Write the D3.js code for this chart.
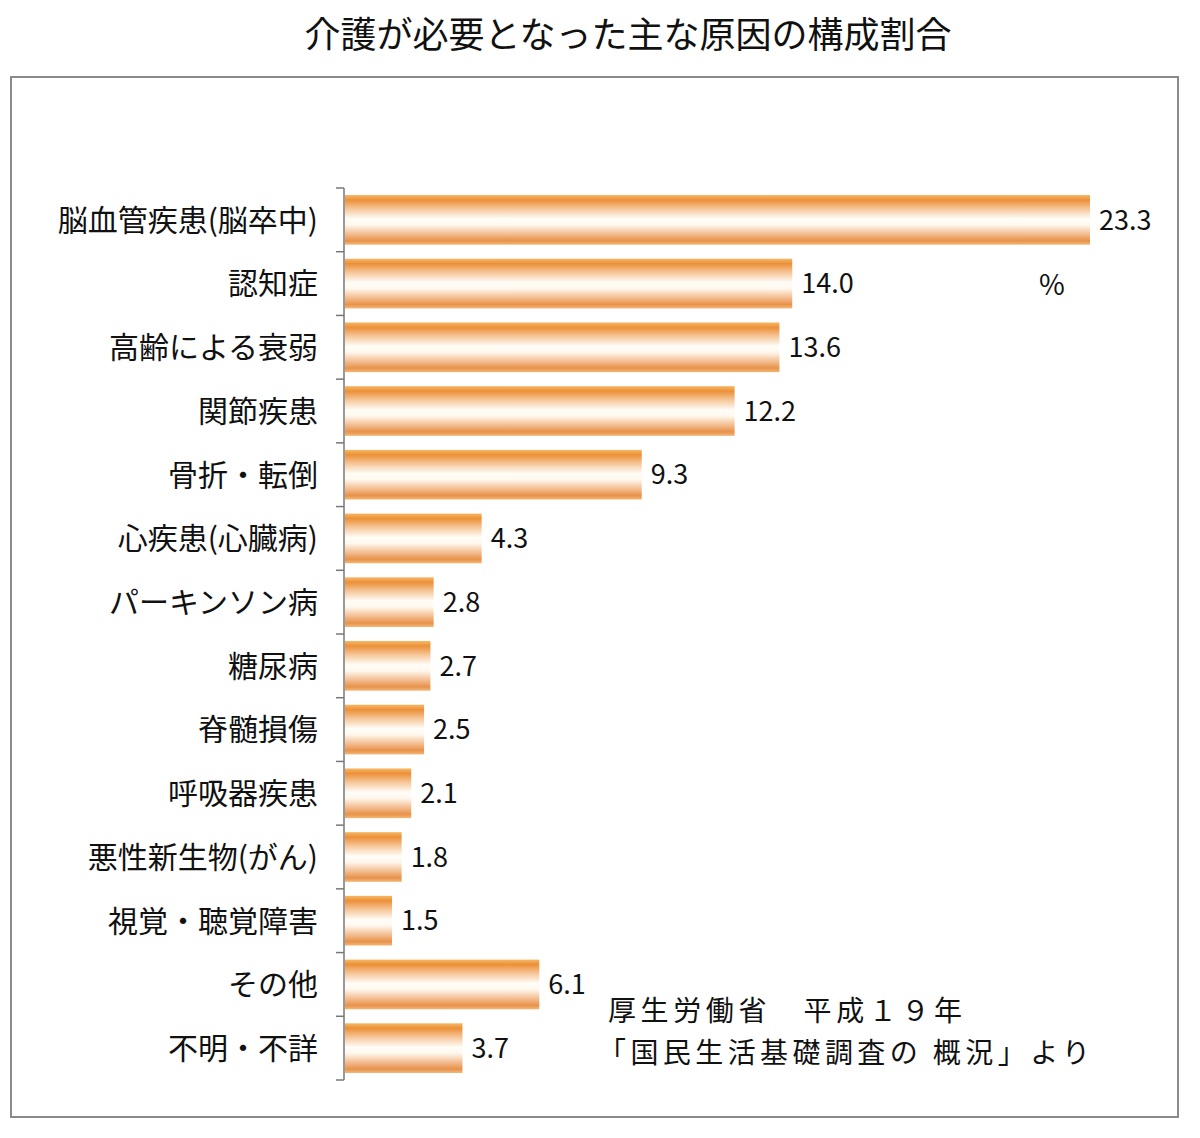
<!DOCTYPE html>
<html lang="ja">
<head>
<meta charset="UTF-8">
<title>介護が必要となった主な原因の構成割合</title>
<style>
  body { margin: 0; background: #fff; }
  svg text { font-family: "Noto Sans CJK JP", "Noto Sans", sans-serif; fill: #111; }
</style>
</head>
<body>
<div id="chart"></div>
<script src="https://d3js.org/d3.v7.min.js"></script>
<script>
const categories = ["脳血管疾患(脳卒中)", "認知症", "高齢による衰弱", "関節疾患", "骨折・転倒",
  "心疾患(心臓病)", "パーキンソン病", "糖尿病", "脊髄損傷", "呼吸器疾患",
  "悪性新生物(がん)", "視覚・聴覚障害", "その他", "不明・不詳"];
const values = [23.3, 14.0, 13.6, 12.2, 9.3, 4.3, 2.8, 2.7, 2.5, 2.1, 1.8, 1.5, 6.1, 3.7];
const title = "介護が必要となった主な原因の構成割合";
const unit = "%";
const sourceLines = ["厚生労働省　平成１９年", "「国民生活基礎調査の 概況」より"];

const W = 1200, H = 1138;
const svg = d3.select("#chart").append("svg").attr("width", W).attr("height", H);

// gradient for bars: orange top/bottom, white centre
const grad = svg.append("defs").append("linearGradient")
  .attr("id", "barGrad").attr("x1", 0).attr("y1", 0).attr("x2", 0).attr("y2", 1);
[[0, "#f6b866"], [0.1, "#ec9038"], [0.28, "#f6c79a"], [0.48, "#fffdf8"], [0.6, "#fff8ee"],
 [0.8, "#f2b888"], [0.92, "#e8924a"], [1, "#f3b878"]]
  .forEach(([o, c]) => grad.append("stop").attr("offset", o).attr("stop-color", c));

svg.append("text").attr("x", 628).attr("y", 48).attr("text-anchor", "middle")
  .style("font-size", "36px").text(title);

svg.append("rect").attr("x", 11).attr("y", 77).attr("width", 1167).attr("height", 1040)
  .attr("fill", "none").attr("stroke", "#8a8a8a").attr("stroke-width", 2);

const x = d3.scaleLinear().domain([0, 23.3]).range([344, 1090]);
const y = d3.scaleBand().domain(categories).range([188, 1080]).paddingInner(0.22).paddingOuter(0.11);

// axis with ticks at band boundaries
const y0 = 188;
svg.append("line").attr("x1", 344).attr("x2", 344).attr("y1", y0).attr("y2", 1080)
  .attr("stroke", "#777").attr("stroke-width", 1.5);
d3.range(categories.length + 1).forEach(i => {
  const yy = y0 + i * (892 / categories.length);
  svg.append("line").attr("x1", 336).attr("x2", 344).attr("y1", yy).attr("y2", yy)
    .attr("stroke", "#777").attr("stroke-width", 1.5);
});

svg.selectAll("rect.bar").data(values).enter().append("rect")
  .attr("class", "bar")
  .attr("x", x(0) + 1)
  .attr("y", (d, i) => y(categories[i]))
  .attr("width", d => x(d) - x(0) - 1)
  .attr("height", y.bandwidth())
  .attr("fill", "url(#barGrad)");

svg.selectAll("text.cat").data(categories).enter().append("text")
  .attr("class", "cat")
  .attr("x", 318)
  .attr("y", d => y(d) + y.bandwidth() / 2)
  .attr("dy", "0.36em")
  .attr("text-anchor", "end")
  .style("font-size", "30px")
  .text(d => d);

svg.selectAll("text.val").data(values).enter().append("text")
  .attr("class", "val")
  .attr("x", d => x(d) + 9)
  .attr("y", (d, i) => y(categories[i]) + y.bandwidth() / 2)
  .attr("dy", "0.36em")
  .style("font-size", "27px")
  .text(d => d.toFixed(1));

svg.append("text").attr("x", 1052).attr("y", 285).attr("dy", "0.36em")
  .attr("text-anchor", "middle").style("font-size", "28px").text(unit);

// source note, stretched to the reference widths
svg.selectAll("text.src").data(sourceLines).enter().append("text")
  .attr("class", "src")
  .attr("x", (d, i) => i === 0 ? 608 : 598)
  .attr("y", (d, i) => 1021 + i * 42)
  .attr("textLength", (d, i) => i === 0 ? 354 : 492)
  .attr("lengthAdjust", "spacing")
  .style("font-size", "28px")
  .text(d => d);
</script>
</body>
</html>
